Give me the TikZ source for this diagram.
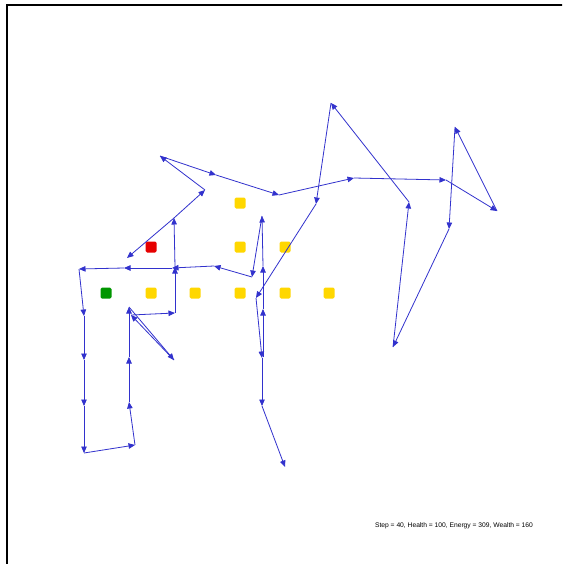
\documentclass[tikz,border=0pt]{standalone}
\usepackage{fontspec}
\setmainfont{Liberation Sans}
\usetikzlibrary{arrows.meta}
\definecolor{walkblue}{RGB}{50,50,205}
\definecolor{gyellow}{RGB}{255,215,0}
\definecolor{gred}{RGB}{230,0,0}
\definecolor{ggreen}{RGB}{0,150,0}
\tikzset{
  walk/.style={draw=walkblue, line width=0.8pt, -{Triangle[length=6.5pt,width=5.5pt]}},
  cell/.style={minimum size=11pt, inner sep=0pt, rounded corners=1.5pt, draw=none},
}
\begin{document}
\begin{tikzpicture}[x=1pt,y=-1pt]
\useasboundingbox (0,0) rectangle (562,564);
\clip (0,0) rectangle (562,564);
\fill[white] (0,0) rectangle (562,564);
\draw[line width=2pt] (6.5,600) -- (6.5,5.5) -- (600,5.5);
% cells
\node[cell, fill=gyellow] (c1) at (240,203) {};
\node[cell, fill=gyellow] (c2) at (240,247) {};
\node[cell, fill=gyellow] (c3) at (285,247) {};
\node[cell, fill=gred]    (c4) at (151,247) {};
\node[cell, fill=ggreen]  (c5) at (106,293) {};
\node[cell, fill=gyellow] (c6) at (151,293) {};
\node[cell, fill=gyellow] (c7) at (195,293) {};
\node[cell, fill=gyellow] (c8) at (240,293) {};
\node[cell, fill=gyellow] (c9) at (285,293) {};
\node[cell, fill=gyellow] (c10) at (329,293) {};
% walk vertices
\coordinate (w1) at (263,357);
\coordinate (w2) at (263,309);
\coordinate (w3) at (263,266);
\coordinate (w4) at (262,216);
\coordinate (w5) at (252,277);
\coordinate (w6) at (214,266);
\coordinate (w7) at (172,268);
\coordinate (w8) at (124,268);
\coordinate (w9) at (79,269);
\coordinate (w10) at (84,316);
\coordinate (w11) at (84,360);
\coordinate (w12) at (84,406);
\coordinate (w13) at (84,453);
\coordinate (w14) at (135,445);
\coordinate (w15) at (129,402);
\coordinate (w16) at (129,357);
\coordinate (w17) at (129,307);
\coordinate (w18) at (174,360);
\coordinate (w19) at (131,315);
\coordinate (w20) at (175,313);
\coordinate (w21) at (175,267);
\coordinate (w22) at (174,218);
\coordinate (w23) at (205,190);
\coordinate (w24) at (160,156);
\coordinate (w25) at (216,175);
\coordinate (w26) at (279,195);
\coordinate (w27) at (354,178);
\coordinate (w28) at (446,180);
\coordinate (w29) at (497,211);
\coordinate (w30) at (455,127);
\coordinate (w31) at (449,229);
\coordinate (w32) at (393,347);
\coordinate (w33) at (409,202);
\coordinate (w34) at (331,103);
\coordinate (w35) at (316,204);
\coordinate (w36) at (256,298);
\coordinate (w37) at (262,358);
\coordinate (w38) at (262,406);
\coordinate (w39) at (285,467);
\coordinate (q) at (127,258);
\foreach \i [evaluate=\i as \j using int(\i+1)] in {1,...,38}
  \draw[walk] (w\i) -- (w\j);
\draw[walk] (w22) -- (q);
\node[font=\fontsize{6.7}{8}\selectfont, inner sep=0pt] (status) at (454,526) {Step = 40, Health = 100, Energy = 309, Wealth = 160};
\end{tikzpicture}
\end{document}
